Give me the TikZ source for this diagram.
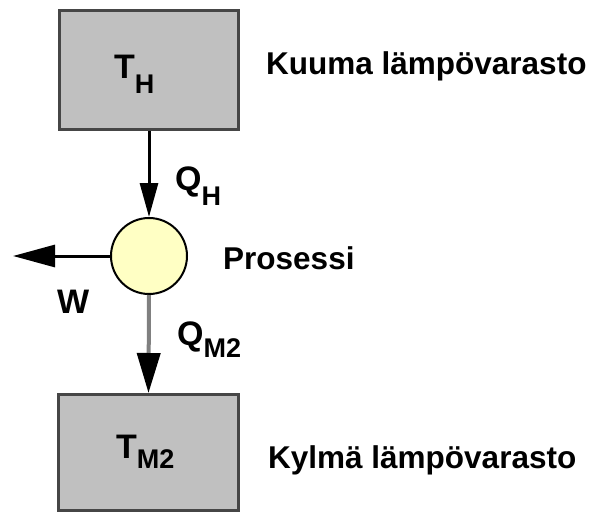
\documentclass[tikz,border=0pt]{standalone}
\usepackage{fontspec}
\setmainfont{Liberation Sans}
\usetikzlibrary{arrows.meta}
\definecolor{boxgray}{RGB}{192,192,192}
\definecolor{boxedge}{RGB}{70,70,70}
\definecolor{procfill}{RGB}{255,255,196}
\definecolor{flowgray}{RGB}{128,128,128}
\newcommand{\symfont}{\fontsize{34}{34}\selectfont\bfseries}
\newcommand{\subfont}{\fontsize{27}{27}\selectfont\bfseries}
\newcommand{\labfont}{\fontsize{31.5}{32}\selectfont\bfseries}
\begin{document}
\begin{tikzpicture}[x=1pt,y=-1pt,
  reservoir/.style={draw=boxedge,fill=boxgray,line width=3pt,rectangle,inner sep=0pt},
  procnode/.style={draw=black,fill=procfill,line width=2pt,circle,minimum size=76pt,inner sep=0pt},
  symlabel/.style={anchor=base west,inner sep=0pt,font=\symfont},
  biglabel/.style={anchor=base west,inner sep=0pt,font=\labfont},
  flowblack/.style={draw=black,line width=3pt,-{Triangle[length=34pt,width=18pt]}},
  flowgrey/.style={draw=flowgray,line width=4pt,-{Triangle[length=40pt,width=23pt,color=black]}}
]
\useasboundingbox[fill=white] (0,0) rectangle (593,513);
\node[reservoir,minimum width=179pt,minimum height=119pt] (hot) at (149,70) {};
\node[reservoir,minimum width=180pt,minimum height=116pt] (cold) at (148.5,452.5) {};
\node[procnode] (proc) at (149,256) {};
\coordinate (wend) at (13,256);
% texts
\node[symlabel] (th) at (114,79) {T\raisebox{-15pt}{\subfont H}};
\node[symlabel] (qh) at (175,190) {Q\raisebox{-15pt}{\subfont H}};
\node[symlabel] (qm) at (177,345) {Q\raisebox{-12pt}{\subfont M2}};
\node[symlabel] (tm) at (116,458) {T\raisebox{-10pt}{\subfont M2}};
\node[symlabel] (w) at (57,313) {W};
\node[biglabel] (lhot) at (266,75) {Kuuma lämpövarasto};
\node[biglabel] (lproc) at (223,269) {Prosessi};
\node[biglabel] (lcold) at (268,468) {Kylmä lämpövarasto};
% connectors
\draw[flowblack] (hot.south) -- (proc.north);
\draw[flowblack,-{Triangle[length=42pt,width=22pt]}] (proc.west) -- (wend);
\draw[flowgrey] (proc.south) -- (cold.north);
\end{tikzpicture}
\end{document}
